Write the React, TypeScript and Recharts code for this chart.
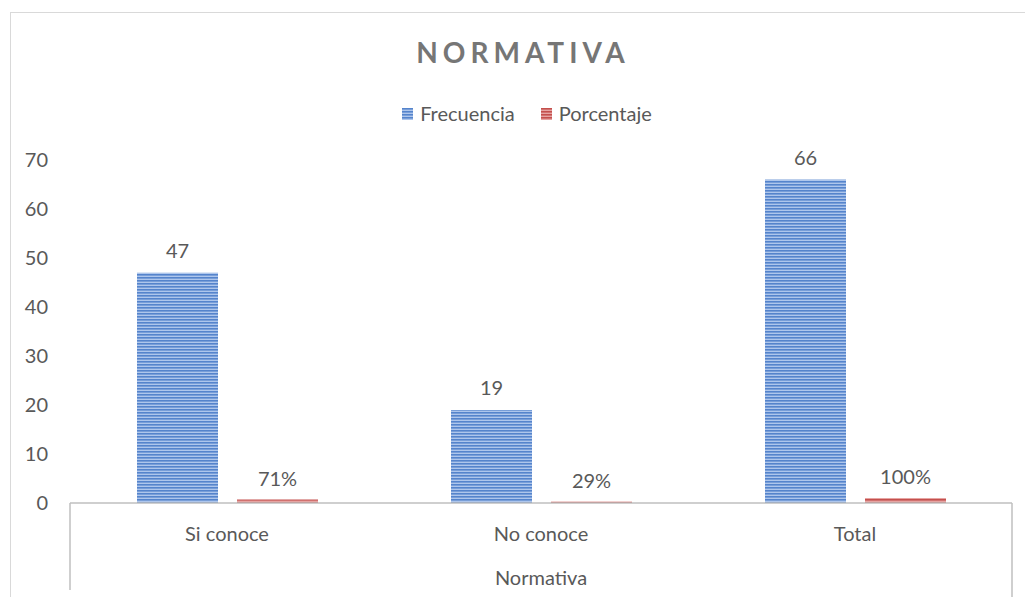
import { BarChart, Bar, XAxis, YAxis, LabelList, usePlotArea } from "recharts";

const categories = ["Si conoce", "No conoce", "Total"];
const frecuencia = [47, 19, 66];
const porcentaje = [0.71, 0.29, 1.0];
const yTicks = [0, 10, 20, 30, 40, 50, 60, 70];

const data = categories.map((categoria, i) => ({
  categoria,
  frecuencia: frecuencia[i],
  porcentaje: porcentaje[i],
}));

const FONT = "Lato, 'Open Sans', sans-serif";
const TEXT = "#595959";
const AXIS = "#bfbfbf";
const FS = 20;

// multi-level axis: outer separators and the group label "Normativa"
function AxisFrame() {
  const area = usePlotArea();
  if (!area) return null;
  const bottom = area.y + area.height;
  const right = area.x + area.width;
  return (
    <g>
      <line x1={area.x} x2={area.x} y1={bottom} y2={bottom + 87} stroke={AXIS} strokeWidth={1.5} />
      <line x1={right} x2={right} y1={bottom} y2={bottom + 100} stroke={AXIS} strokeWidth={1.5} />
      <text x={area.x + area.width / 2} y={bottom + 82} textAnchor="middle" fill={TEXT} fontSize={FS} fontFamily={FONT}>
        Normativa
      </text>
    </g>
  );
}

function Swatch({ id }: { id: string }) {
  return (
    <svg width={11} height={12} style={{ display: "block" }}>
      <rect width={11} height={12} fill={`url(#${id})`} />
    </svg>
  );
}

export default function App() {
  return (
    <>
      <style>{`body{margin:0;overflow:hidden}`}</style>
      <div
        style={{
          position: "absolute",
          left: 10,
          top: 12,
          width: 1014,
          height: 584,
          borderLeft: "1px solid #d9d9d9",
          borderTop: "1px solid #d9d9d9",
          fontFamily: FONT,
        }}
      >
        <div
          style={{
            position: "absolute",
            top: 22,
            left: 0,
            width: 1014,
            paddingLeft: 10,
            boxSizing: "border-box",
            textAlign: "center",
            fontSize: 28,
            lineHeight: "34px",
            fontWeight: 700,
            letterSpacing: 5,
            color: "#767676",
          }}
        >
          NORMATIVA
        </div>
        <div
          style={{
            position: "absolute",
            top: 89,
            left: 0,
            width: 1014,
            paddingLeft: 18,
            boxSizing: "border-box",
            display: "flex",
            justifyContent: "center",
            alignItems: "center",
            gap: 26,
            fontSize: FS,
            lineHeight: "23px",
            color: TEXT,
          }}
        >
          <div style={{ display: "flex", alignItems: "center", gap: 7 }}>
            <Swatch id="stripeBlue" />
            <span>Frecuencia</span>
          </div>
          <div style={{ display: "flex", alignItems: "center", gap: 7 }}>
            <Swatch id="stripeRed" />
            <span>Porcentaje</span>
          </div>
        </div>
        <BarChart
          width={1014}
          height={584}
          data={data}
          margin={{ top: 147, right: 13, bottom: 0, left: 0 }}
          barSize={81}
          barGap={19}
        >
          <defs>
            <pattern id="stripeBlue" width={4} height={3} patternUnits="userSpaceOnUse">
              <rect width={4} height={3} fill="#aec6ec" />
              <rect width={4} height={1.6} fill="#5584cc" />
            </pattern>
            <pattern id="stripeRed" width={4} height={3} patternUnits="userSpaceOnUse">
              <rect width={4} height={3} fill="#e6a4a2" />
              <rect width={4} height={1.6} fill="#c4504d" />
            </pattern>
          </defs>
          <XAxis
            dataKey="categoria"
            axisLine={{ stroke: AXIS, strokeWidth: 1.5 }}
            tickLine={false}
            tickSize={0}
            tickMargin={24}
            height={94}
            tick={{ fill: TEXT, fontSize: FS, fontFamily: FONT }}
          />
          <YAxis
            domain={[0, 70]}
            ticks={yTicks}
            width={59}
            axisLine={false}
            tickLine={false}
            tickSize={0}
            tickMargin={22}
            tick={{ fill: TEXT, fontSize: FS, fontFamily: FONT }}
          />
          <Bar dataKey="frecuencia" name="Frecuencia" fill="url(#stripeBlue)" isAnimationActive={false}>
            <LabelList dataKey="frecuencia" position="top" offset={15} fill={TEXT} fontSize={FS} fontFamily={FONT} />
          </Bar>
          <Bar dataKey="porcentaje" name="Porcentaje" fill="url(#stripeRed)" isAnimationActive={false}>
            <LabelList
              dataKey="porcentaje"
              position="top"
              offset={14}
              fill={TEXT}
              fontSize={FS}
              fontFamily={FONT}
              formatter={(v: any) => `${Math.round(Number(v) * 100)}%`}
            />
          </Bar>
          <AxisFrame />
        </BarChart>
      </div>
    </>
  );
}
